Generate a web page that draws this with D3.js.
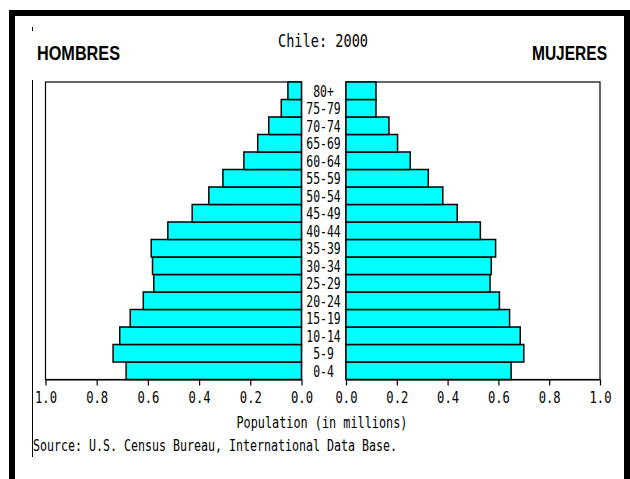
<!DOCTYPE html>
<html><head><meta charset="utf-8">
<script src="https://cdn.jsdelivr.net/npm/d3@7/dist/d3.min.js"></script>
<style>
html,body{margin:0;padding:0;background:#fff;}
svg{display:block;}
.mono{font-family:"DejaVu Sans Mono",monospace;fill:#000;}
</style></head>
<body>
<script>
const ageGroups = ["0-4","5-9","10-14","15-19","20-24","25-29","30-34","35-39","40-44","45-49","50-54","55-59","60-64","65-69","70-74","75-79","80+"];
const males   = [0.685,0.736,0.710,0.669,0.618,0.577,0.582,0.587,0.522,0.427,0.362,0.307,0.225,0.171,0.128,0.079,0.053];
const females = [0.650,0.700,0.686,0.644,0.604,0.567,0.572,0.589,0.529,0.438,0.381,0.324,0.253,0.203,0.169,0.118,0.118];
const tickValues = [0,0.2,0.4,0.6,0.8,1.0];
const title = "Chile: 2000";
const leftLabel = "HOMBRES", rightLabel = "MUJERES";
const xTitle = "Population (in millions)";
const source = "Source: U.S. Census Bureau, International Data Base.";

const W = 630, H = 479;
const svg = d3.select("body").append("svg").attr("width", W).attr("height", H);

// frame
svg.append("rect").attr("x",9).attr("y",10).attr("width",621).attr("height",6).attr("fill","#000");
svg.append("rect").attr("x",9).attr("y",10).attr("width",6).attr("height",469).attr("fill","#000");
svg.append("rect").attr("x",624).attr("y",10).attr("width",6).attr("height",469).attr("fill","#000");
svg.append("line").attr("x1",32.5).attr("x2",32.5).attr("y1",27).attr("y2",31).attr("stroke","#000");
svg.append("line").attr("x1",32.5).attr("x2",32.5).attr("y1",80).attr("y2",457).attr("stroke","#000");

const plotTop = 82, plotBottom = 379.5;
const xL = d3.scaleLinear().domain([1,0]).range([45.5,301.5]);
const xR = d3.scaleLinear().domain([0,1]).range([346,600]);
const y = d3.scaleBand().domain(ageGroups.slice().reverse()).range([plotTop,plotBottom]).padding(0);

// boxes
svg.append("rect").attr("x",xL(1)).attr("y",plotTop).attr("width",xL(0)-xL(1)).attr("height",plotBottom-plotTop)
  .attr("fill","none").attr("stroke","#000").attr("stroke-width",1.2);
svg.append("rect").attr("x",xR(0)).attr("y",plotTop).attr("width",xR(1)-xR(0)).attr("height",plotBottom-plotTop)
  .attr("fill","none").attr("stroke","#000").attr("stroke-width",1.2);

// bars
svg.append("g").selectAll("rect").data(ageGroups).join("rect")
  .attr("x",(d,i)=>xL(males[i])).attr("y",d=>y(d))
  .attr("width",(d,i)=>xL(0)-xL(males[i])).attr("height",y.bandwidth())
  .attr("fill","#00FFFF").attr("stroke","#000").attr("stroke-width",1.5);
svg.append("g").selectAll("rect").data(ageGroups).join("rect")
  .attr("x",xR(0)).attr("y",d=>y(d))
  .attr("width",(d,i)=>xR(females[i])-xR(0)).attr("height",y.bandwidth())
  .attr("fill","#00FFFF").attr("stroke","#000").attr("stroke-width",1.5);

// age labels
svg.append("g").selectAll("text").data(ageGroups).join("text")
  .attr("class","mono")
  .attr("x",323.5).attr("y",d=>y(d)+y.bandwidth()/2+6)
  .attr("text-anchor","middle").attr("font-size",16)
  .attr("textLength",d=>d.length*6.9).attr("lengthAdjust","spacingAndGlyphs")
  .text(d=>d);

// axes
const fmt = d3.format(".1f");
function styleAxis(g){
  g.select(".domain").attr("stroke","#000").attr("stroke-width",1.2);
  g.selectAll(".tick line").attr("stroke","#000").attr("stroke-width",1.2);
  g.selectAll(".tick text").attr("class","mono").attr("font-size",15)
    .attr("font-family","DejaVu Sans Mono").attr("fill","#000")
    .attr("textLength",22).attr("lengthAdjust","spacingAndGlyphs");
}
svg.append("g").attr("transform",`translate(0,${plotBottom})`)
  .call(d3.axisBottom(xL).tickValues(tickValues).tickFormat(fmt).tickSize(6).tickSizeOuter(0).tickPadding(7))
  .call(styleAxis);
svg.append("g").attr("transform",`translate(0,${plotBottom})`)
  .call(d3.axisBottom(xR).tickValues(tickValues).tickFormat(fmt).tickSize(6).tickSizeOuter(0).tickPadding(7))
  .call(styleAxis);

// texts
svg.append("text").attr("class","mono").attr("x",323).attr("y",47).attr("text-anchor","middle")
  .attr("font-size",18).attr("textLength",90).attr("lengthAdjust","spacingAndGlyphs").text(title);
svg.append("text").attr("x",37).attr("y",60).attr("font-family","Liberation Sans, Arial, sans-serif")
  .attr("font-weight","900").attr("font-size",20).attr("textLength",83).attr("lengthAdjust","spacingAndGlyphs").text(leftLabel);
svg.append("text").attr("x",532).attr("y",60).attr("font-family","Liberation Sans, Arial, sans-serif")
  .attr("font-weight","900").attr("font-size",20).attr("textLength",75).attr("lengthAdjust","spacingAndGlyphs").text(rightLabel);
svg.append("text").attr("class","mono").attr("x",322).attr("y",428).attr("text-anchor","middle")
  .attr("font-size",15).attr("textLength",171).attr("lengthAdjust","spacingAndGlyphs").text(xTitle);
svg.append("text").attr("class","mono").attr("x",33).attr("y",451)
  .attr("font-size",15).attr("textLength",364).attr("lengthAdjust","spacingAndGlyphs").text(source);
</script>
</body></html>
